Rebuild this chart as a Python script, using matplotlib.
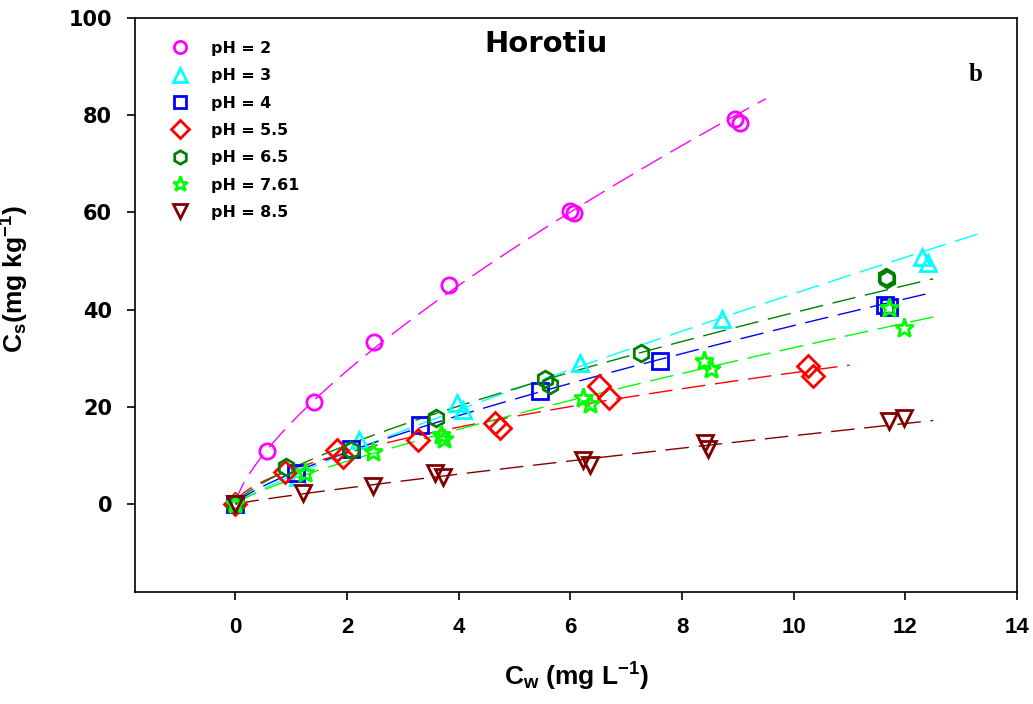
import numpy as np
import matplotlib
matplotlib.use('Agg')
import matplotlib.pyplot as plt

# Cw (mg/L) and Cs (mg/kg), replicates included
x_ph2 = [0, 0.57, 1.40, 2.49, 3.83, 6.00, 6.06, 8.95, 9.03]
y_ph2 = [0, 11.0, 21.0, 33.3, 45.1, 60.3, 59.9, 79.2, 78.5]

x_ph3 = [0, 1.12, 2.22, 3.97, 4.08, 6.18, 8.72, 12.30, 12.41]
y_ph3 = [0, 5.6, 13.2, 20.7, 19.4, 29.0, 38.0, 50.9, 49.5]

x_ph4 = [0, 1.09, 2.07, 3.30, 5.46, 7.61, 11.64, 11.70]
y_ph4 = [0, 6.4, 11.4, 16.3, 23.3, 29.5, 41.0, 40.6]

x_ph55 = [0, 0.88, 1.81, 1.92, 3.27, 4.64, 4.74, 6.51, 6.69, 10.26, 10.34]
y_ph55 = [0, 6.6, 11.1, 9.7, 13.2, 16.7, 15.6, 24.3, 21.8, 28.4, 26.3]

x_ph65 = [0, 0.91, 2.07, 3.60, 5.55, 5.64, 7.27, 11.66, 11.67]
y_ph65 = [0, 7.7, 11.1, 17.6, 25.8, 24.5, 31.0, 46.8, 46.2]

x_ph761 = [0, 1.25, 2.46, 3.69, 3.74, 6.23, 6.35, 8.39, 8.51, 11.71, 11.98]
y_ph761 = [0, 6.3, 10.8, 14.2, 13.4, 21.9, 20.5, 29.4, 27.7, 40.3, 36.3]

x_ph85 = [0, 1.21, 2.46, 3.57, 3.72, 6.23, 6.35, 8.41, 8.47, 11.70, 11.98]
y_ph85 = [0, 2.2, 3.7, 6.3, 5.6, 9.1, 8.0, 12.5, 11.4, 17.0, 17.7]

labels = ['pH = 2', 'pH = 3', 'pH = 4', 'pH = 5.5', 'pH = 6.5', 'pH = 7.61', 'pH = 8.5']
fit_end = [9.5, 13.3, 12.5, 11.0, 12.5, 12.5, 12.5]

series = [(x_ph2, y_ph2), (x_ph3, y_ph3), (x_ph4, y_ph4), (x_ph55, y_ph55),
          (x_ph65, y_ph65), (x_ph761, y_ph761), (x_ph85, y_ph85)]
colors = ['#FF00FF', '#00FFFF', '#0000FF', '#FF0000', '#008000', '#00FF00', '#800000']
markers = ['o', '^', 's', 'D', 'h', '*', 'v']
msizes = [11, 12, 11, 11, 12, 14, 12]

plt.rcParams['mathtext.fontset'] = 'custom'
plt.rcParams['mathtext.rm'] = 'Liberation Sans:bold'
plt.rcParams['mathtext.bf'] = 'Liberation Sans:bold'
plt.rcParams['mathtext.it'] = 'Liberation Sans:bold'

fig = plt.figure(figsize=(10.33, 7.04), dpi=100)
ax = fig.add_axes([0.1307, 0.1598, 0.8538, 0.8146])

for (xs, ys), c, m, ms, lab, xe in zip(series, colors, markers, msizes, labels, fit_end):
    xs = np.array(xs)
    ys = np.array(ys)
    # Freundlich fit (log-log) through the non-zero points
    nz = xs > 0
    n, logk = np.polyfit(np.log(xs[nz]), np.log(ys[nz]), 1)
    xf = np.linspace(0, xe, 200)
    ax.plot(xf, np.exp(logk) * xf ** n, color=c, lw=1.0, ls=(0, (17, 7)), zorder=2)
    ax.plot(xs, ys, ls='none', marker=m, ms=ms, mfc='none', mec=c, mew=2,
            label=lab, zorder=3)

ax.set_xlim(-1.8, 14)
ax.set_ylim(-18, 100)
ax.set_xticks(range(0, 15, 2))
ax.set_yticks(range(0, 101, 20))

ax.tick_params(direction='out', length=6, width=1.2)
ax.tick_params(axis='x', pad=12)
ax.tick_params(axis='y', pad=10.5)
for lab in ax.get_yticklabels():
    lab.set_fontfamily('DejaVu Sans')
    lab.set_fontweight('bold')
    lab.set_fontsize(15)
for lab in ax.get_xticklabels():
    lab.set_fontfamily('Liberation Sans')
    lab.set_fontweight('bold')
    lab.set_fontsize(16)
for s in ax.spines.values():
    s.set_linewidth(1.2)

ax.set_xlabel(r'C$_\mathbf{w}$ (mg L$^\mathbf{-1}$)', fontsize=19, fontweight='bold',
              family='Liberation Sans', labelpad=17)
ax.set_ylabel(r'C$_\mathbf{s}$(mg kg$^\mathbf{-1}$)', fontsize=19, fontweight='bold',
              family='Liberation Sans')
ax.yaxis.set_label_coords(-0.118, 0.545)

ax.text(0.466, 0.955, 'Horotiu', transform=ax.transAxes, ha='center', va='center',
        fontsize=21, fontweight='bold', family='DejaVu Sans')
ax.text(0.953, 0.902, 'b', transform=ax.transAxes, ha='center', va='center',
        fontsize=18, fontweight='bold', family='Liberation Serif')

leg = ax.legend(loc='upper left', bbox_to_anchor=(0.02, 0.985), frameon=False,
                prop={'family': 'DejaVu Sans', 'weight': 'bold', 'size': 11.4},
                markerscale=0.8, handlelength=1.6, handletextpad=1.2, labelspacing=0.78)

fig.savefig('out.png', dpi=100)
